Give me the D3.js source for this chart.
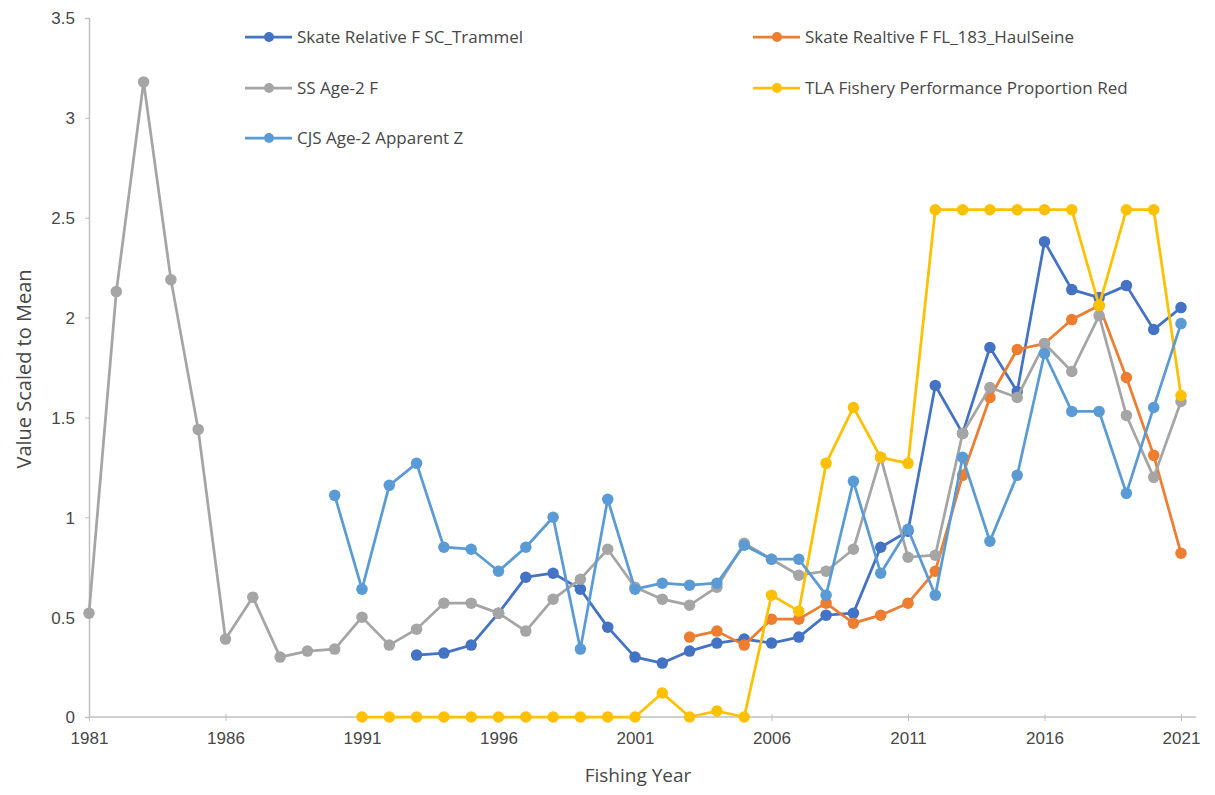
<!DOCTYPE html>
<html>
<head>
  <meta charset="utf-8">
  <title>Value Scaled to Mean</title>
  <script src="https://cdn.jsdelivr.net/npm/d3@7/dist/d3.min.js"></script>
  <style>
    body { margin: 0; background: #fff; }
    svg { display: block; font-family: "Open Sans", "Noto Sans", sans-serif; }
  </style>
</head>
<body>
  <svg width="1215" height="795"></svg>

  <script>
    // data
    const xTicks = [1981, 1986, 1991, 1996, 2001, 2006, 2011, 2016, 2021];
    const yTicks = [0, 0.5, 1, 1.5, 2, 2.5, 3, 3.5];

    const skateSCStart = 1993;
    const skateSC = [0.31, 0.32, 0.36, 0.52, 0.70, 0.72, 0.64, 0.45,
      0.30, 0.27, 0.33, 0.37, 0.39, 0.37, 0.40, 0.51, 0.52, 0.85,
      0.93, 1.66, 1.42, 1.85, 1.63, 2.38, 2.14, 2.10, 2.16, 1.94, 2.05];

    const skateFLStart = 2003;
    const skateFL = [0.40, 0.43, 0.36, 0.49, 0.49, 0.57, 0.47, 0.51,
      0.57, 0.73, 1.21, 1.60, 1.84, 1.87, 1.99, 2.06, 1.70, 1.31, 0.82];

    const ssStart = 1981;
    const ssAge2 = [0.52, 2.13, 3.18, 2.19, 1.44, 0.39, 0.60, 0.30, 0.33, 0.34,
      0.50, 0.36, 0.44, 0.57, 0.57, 0.52, 0.43, 0.59, 0.69, 0.84,
      0.65, 0.59, 0.56, 0.65, 0.87, 0.79, 0.71, 0.73, 0.84, 1.30,
      0.80, 0.81, 1.42, 1.65, 1.60, 1.87, 1.73, 2.01, 1.51, 1.20, 1.58];

    const tlaStart = 1991;
    const tlaRed = [0, 0, 0, 0, 0, 0, 0, 0, 0, 0,
      0, 0.12, 0, 0.03, 0, 0.61, 0.53, 1.27, 1.55, 1.30,
      1.27, 2.54, 2.54, 2.54, 2.54, 2.54, 2.54, 2.06, 2.54, 2.54, 1.61];

    const cjsStart = 1990;
    const cjsAge2 = [1.11, 0.64, 1.16, 1.27, 0.85, 0.84, 0.73, 0.85, 1.00, 0.34,
      1.09, 0.64, 0.67, 0.66, 0.67, 0.86, 0.79, 0.79, 0.61, 1.18,
      0.72, 0.94, 0.61, 1.30, 0.88, 1.21, 1.82, 1.53, 1.53, 1.12,
      1.55, 1.97];

    const series = [
      { name: "Skate Relative F SC_Trammel", start: skateSCStart, values: skateSC, color: "#4472C4" },
      { name: "Skate Realtive F FL_183_HaulSeine", start: skateFLStart, values: skateFL, color: "#ED7D31" },
      { name: "SS Age-2 F", start: ssStart, values: ssAge2, color: "#A5A5A5" },
      { name: "TLA Fishery Performance Proportion Red", start: tlaStart, values: tlaRed, color: "#FFC000" },
      { name: "CJS Age-2 Apparent Z", start: cjsStart, values: cjsAge2, color: "#5B9BD5" }
    ];

    const svg = d3.select("svg");
    const axisColor = "#bfbfbf";
    const textColor = "#474747";

    const xScale = d3.scaleLinear().domain([1981, 2021]).range([89, 1181]);
    const yScale = d3.scaleLinear().domain([0, 3.5]).range([717, 18]);

    // y axis
    const yAxis = svg.append("g")
      .attr("transform", "translate(89,0)")
      .call(d3.axisLeft(yScale).tickValues(yTicks).tickSize(4).tickPadding(10)
        .tickFormat(d => String(d)));
    yAxis.select(".domain").attr("stroke", axisColor).attr("stroke-width", 1.5);
    yAxis.selectAll(".tick line").attr("stroke", axisColor);
    yAxis.selectAll(".tick text").attr("fill", textColor)
      .style("font-size", "17px").attr("dy", "0.35em");

    // x axis
    const xAxis = svg.append("g")
      .attr("transform", "translate(0,717)")
      .call(d3.axisBottom(xScale).tickValues(xTicks).tickSize(4).tickPadding(11)
        .tickFormat(d3.format("d")));
    xAxis.select(".domain").attr("d", "M89,0H1196").attr("stroke", axisColor).attr("stroke-width", 1.5);
    xAxis.selectAll(".tick line").attr("stroke", axisColor).attr("y1", -3);
    xAxis.selectAll(".tick text").attr("fill", textColor).style("font-size", "17px");

    // axis titles
    svg.append("text")
      .attr("transform", "translate(24,369) rotate(-90)")
      .attr("text-anchor", "middle")
      .attr("dy", "0.35em")
      .attr("fill", textColor)
      .style("font-size", "20px")
      .text("Value Scaled to Mean");

    svg.append("text")
      .attr("x", 638).attr("y", 782)
      .attr("text-anchor", "middle")
      .attr("fill", textColor)
      .style("font-size", "19px")
      .text("Fishing Year");

    const line = d3.line()
      .x(d => xScale(d.year))
      .y(d => yScale(d.value));

    const plot = svg.append("g");
    series.forEach(s => {
      const pts = s.values.map((v, i) => ({ year: s.start + i, value: v }));
      const g = plot.append("g");
      g.append("path")
        .datum(pts)
        .attr("fill", "none")
        .attr("stroke", s.color)
        .attr("stroke-width", 2.75)
        .attr("stroke-linejoin", "round")
        .attr("d", line);
      g.selectAll("circle")
        .data(pts)
        .join("circle")
        .attr("cx", d => xScale(d.year))
        .attr("cy", d => yScale(d.value))
        .attr("r", 5.75)
        .attr("fill", s.color);
    });

    // legend
    const legendPos = [
      [245, 37], [753, 37], [245, 88], [753, 88], [245, 138]
    ];
    series.forEach((s, i) => {
      const [lx, ly] = legendPos[i];
      const g = svg.append("g").attr("transform", `translate(${lx},${ly})`);
      g.append("line").attr("x1", 0).attr("x2", 47).attr("y1", 0).attr("y2", 0)
        .attr("stroke", s.color).attr("stroke-width", 2.75);
      g.append("circle").attr("cx", 24).attr("cy", 0).attr("r", 5).attr("fill", s.color);
      g.append("text").attr("x", 52).attr("y", 0).attr("dy", "0.35em")
        .attr("fill", textColor)
        .style("font-size", "17px")
        .text(s.name);
    });
  </script>
</body>
</html>
